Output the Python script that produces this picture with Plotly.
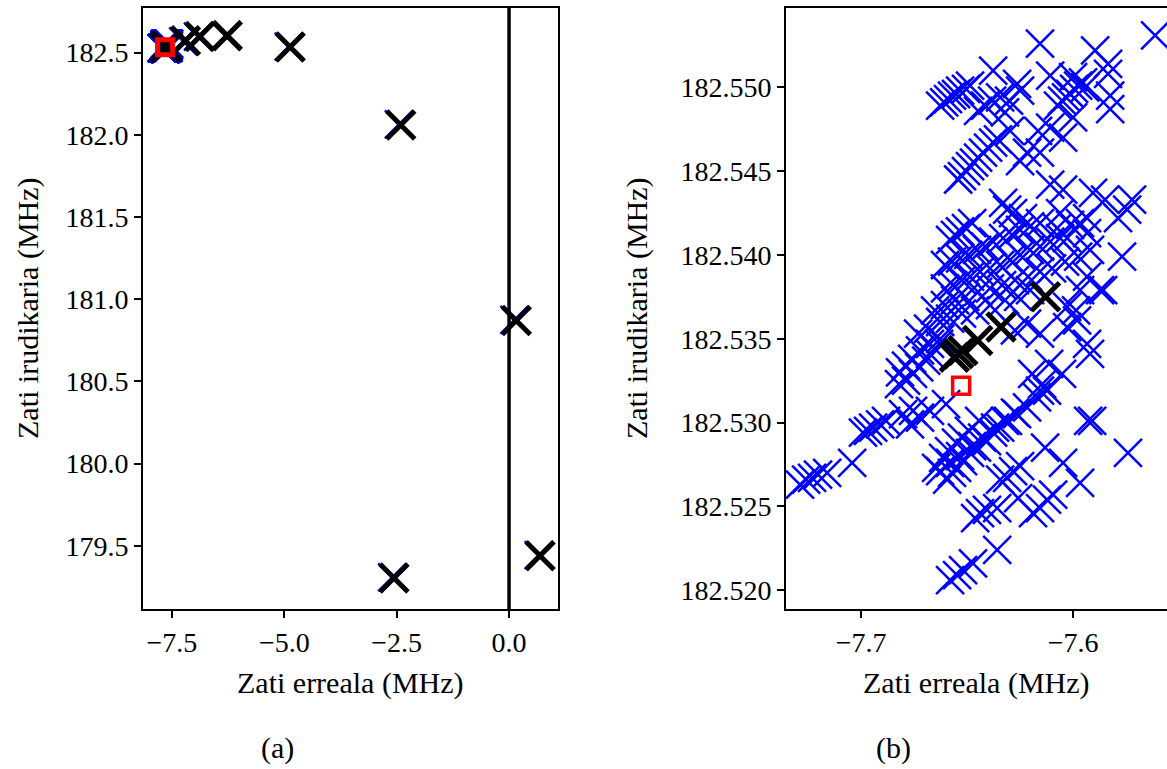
import plotly.graph_objects as go

# Estimated poles (real part, imaginary part), MHz
blue_re = [
    -7.6156, -7.5896, -7.5835, -7.5613, -7.5835, -7.5825, -7.5825, -7.5943, -7.6000, -7.6108, -7.6264, -7.6377, -7.6486,
    -7.6627, -7.6608, -7.6590, -7.6571, -7.6552, -7.6533, -7.6505, -7.6448, -7.6415, -7.6382, -7.6344, -7.6302, -7.6250, -7.6321,
    -7.6071, -7.6052, -7.6033, -7.6014, -7.5995, -7.5976, -7.5953, -7.6000, -7.6108, -7.6047, -7.6165,
    -7.6542, -7.6524, -7.6505, -7.6486, -7.6467, -7.6448, -7.6425, -7.6401, -7.6377, -7.6354, -7.6250, -7.6217, -7.6156, -7.6297,
    -7.6108, -7.6047, -7.5906, -7.5849, -7.5722, -7.5745, -7.5788,
    -7.6580, -7.6557, -7.6533, -7.6505, -7.6476, -7.6330, -7.6311, -7.6236, -7.6283, -7.6075, -7.6014, -7.5967, -7.5934, -7.6061, -7.6028, -7.5934,
    -7.6604, -7.6571, -7.6533, -7.6495, -7.6453, -7.6415, -7.6377, -7.6330, -7.6288, -7.6250, -7.6203, -7.6156,
    -7.6604, -7.6566, -7.6524, -7.6486, -7.6439, -7.6392, -7.6344, -7.6297, -7.6250, -7.6203, -7.6156, -7.6108, -7.6061,
    -7.6651, -7.6604, -7.6557, -7.6509, -7.6448, -7.6392, -7.6335, -7.6274, -7.6212, -7.6156, -7.6099, -7.6038, -7.5976, -7.5920,
    -7.6731, -7.6684, -7.6627, -7.6580, -7.6524, -7.6462, -7.6392, -7.6321, -7.6259, -7.6203,
    -7.6816, -7.6788, -7.6759, -7.6722, -7.6675, -7.6627,
    -7.5934, -7.5873, -7.6028, -7.5981, -7.5934, -7.5920, -7.6156, -7.6217, -7.6028, -7.5967, -7.5769, -7.6113, -7.6193, -7.6052, -7.6146, -7.6274, -7.5986, -7.5858,
    -7.7288, -7.7259, -7.7231, -7.7203, -7.7160, -7.7042, -7.6991, -7.6967, -7.6943, -7.6910, -7.6882, -7.6802, -7.6755,
    -7.6821, -7.6788, -7.6755, -7.6726, -7.6693, -7.6675, -7.6632, -7.6599,
    -7.6769, -7.6722, -7.6675, -7.6594, -7.6571, -7.6547, -7.6519, -7.6486, -7.6453, -7.6406, -7.6377, -7.6344, -7.6307, -7.6264,
    -7.6217, -7.6170, -7.6156, -7.6123, -7.5929, -7.6132, -7.6047, -7.5967, -7.6344, -7.6311, -7.6283, -7.6250, -7.6259, -7.6189,
    -7.6156, -7.6123, -7.6094, -7.6462, -7.6439, -7.6406, -7.6358, -7.6358, -7.6580, -7.6547, -7.6519, -7.6472,
    -7.6646, -7.6613, -7.6585, -7.6552, -7.6524, -7.6491, -7.6443, -7.5910, -7.5741,
    -7.6627, -7.6580, -7.6533, -7.6476, -7.6429, -7.6368, -7.6321, -7.6274,
    -7.25, -6.92, -6.31, -4.90, -2.45, 0.12, 0.66, -2.60,
]
blue_im = [
    182.5526, 182.5522, 182.5514, 182.5531, 182.5508, 182.5495, 182.5487, 182.5500, 182.5506, 182.5507, 182.5502, 182.5510, 182.5501,
    182.5489, 182.5491, 182.5493, 182.5495, 182.5496, 182.5498, 182.5499, 182.5486, 182.5489, 182.5492, 182.5494, 182.5492, 182.5498, 182.5485,
    182.5489, 182.5492, 182.5494, 182.5496, 182.5499, 182.5501, 182.5503, 182.5482, 182.5476, 182.5470, 182.5474,
    182.5445, 182.5447, 182.5450, 182.5453, 182.5455, 182.5458, 182.5461, 182.5464, 182.5467, 182.5469, 182.5456, 182.5461, 182.5461, 182.5474,
    182.5442, 182.5439, 182.5437, 182.5433, 182.5433, 182.5427, 182.5422,
    182.5409, 182.5412, 182.5414, 182.5416, 182.5419, 182.5431, 182.5427, 182.5422, 182.5425, 182.5416, 182.5418, 182.5419, 182.5422, 182.5425, 182.5410, 182.5413,
    182.5394, 182.5396, 182.5398, 182.5400, 182.5403, 182.5405, 182.5408, 182.5410, 182.5412, 182.5415, 182.5417, 182.5419,
    182.5380, 182.5382, 182.5385, 182.5387, 182.5390, 182.5392, 182.5394, 182.5397, 182.5400, 182.5403, 182.5405, 182.5408, 182.5410,
    182.5367, 182.5370, 182.5373, 182.5375, 182.5378, 182.5380, 182.5382, 182.5385, 182.5387, 182.5390, 182.5392, 182.5396, 182.5399, 182.5403,
    182.5353, 182.5356, 182.5360, 182.5362, 182.5365, 182.5367, 182.5370, 182.5373, 182.5375, 182.5379,
    182.5330, 182.5334, 182.5338, 182.5343, 182.5347, 182.5350,
    182.5387, 182.5379, 182.5369, 182.5361, 182.5347, 182.5341, 182.5353, 182.5359, 182.5357, 182.5379, 182.5399, 182.5335, 182.5329, 182.5329, 182.5323, 182.5355, 182.5367, 182.5379,
    182.5263, 182.5266, 182.5267, 182.5269, 182.5270, 182.5276, 182.5294, 182.5295, 182.5297, 182.5299, 182.5301, 182.5305, 182.5307,
    182.5323, 182.5325, 182.5329, 182.5333, 182.5337, 182.5341, 182.5347, 182.5311,
    182.5299, 182.5303, 182.5307, 182.5266, 182.5270, 182.5273, 182.5277, 182.5282, 182.5285, 182.5289, 182.5294, 182.5297, 182.5301, 182.5305,
    182.5309, 182.5315, 182.5319, 182.5319, 182.5301, 182.5285, 182.5276, 182.5264, 182.5266, 182.5267, 182.5271, 182.5274, 182.5255, 182.5246,
    182.5249, 182.5254, 182.5257, 182.5243, 182.5246, 182.5248, 182.5249, 182.5224, 182.5206, 182.5209, 182.5212, 182.5216,
    182.5273, 182.5279, 182.5283, 182.5288, 182.5291, 182.5295, 182.5301, 182.5301, 182.5282,
    182.5271, 182.5276, 182.5280, 182.5286, 182.5291, 182.5297, 182.5301, 182.5306,
    182.568, 182.597, 182.602, 182.536, 182.063, 180.874, 179.443, 179.308,
]

black_re = [-7.656, -7.654, -7.652, -7.645, -7.634, -7.613, -7.20, -6.88, -6.27, -4.87, -2.41, 0.16, 0.69, -2.56]
black_im = [182.5339, 182.5341, 182.5343, 182.5349, 182.5357, 182.5375, 182.572, 182.598, 182.603, 182.534, 182.06, 180.87, 179.44, 179.305]

ref_re = [-7.6528]
ref_im = [182.5322]

left_xticks = [-7.5, -5.0, -2.5, 0.0]
left_yticks = [179.5, 180.0, 180.5, 181.0, 181.5, 182.0, 182.5]
right_xticks = [-7.7, -7.6]
right_yticks = [182.520, 182.525, 182.530, 182.535, 182.540, 182.545, 182.550]

FONT = "Liberation Serif, DejaVu Serif, serif"
W, H = 1167, 769


def fmt(v, nd):
    s = f"{v:.{nd}f}"
    return s.replace("-", "\u2212")


fig = go.Figure()

# panel (a): full view
fig.add_trace(go.Scatter(x=blue_re, y=blue_im, mode="markers", xaxis="x", yaxis="y",
                         marker=dict(symbol="x-thin", size=28, line=dict(width=2.5, color="#0000ff")),
                         showlegend=False))
fig.add_trace(go.Scatter(x=black_re, y=black_im, mode="markers", xaxis="x", yaxis="y",
                         marker=dict(symbol="x-thin", size=28, line=dict(width=5, color="black")),
                         showlegend=False))
fig.add_trace(go.Scatter(x=ref_re, y=ref_im, mode="markers", xaxis="x", yaxis="y",
                         marker=dict(symbol="square-open", size=15, color="red", line=dict(width=5, color="red")),
                         showlegend=False))

# panel (b): close-up of the cluster
fig.add_trace(go.Scatter(x=blue_re, y=blue_im, mode="markers", xaxis="x2", yaxis="y2",
                         marker=dict(symbol="x-thin", size=28, line=dict(width=2.5, color="#0000ff")),
                         showlegend=False))
fig.add_trace(go.Scatter(x=black_re, y=black_im, mode="markers", xaxis="x2", yaxis="y2",
                         marker=dict(symbol="x-thin", size=28, line=dict(width=5, color="black")),
                         showlegend=False))
fig.add_trace(go.Scatter(x=ref_re, y=ref_im, mode="markers", xaxis="x2", yaxis="y2",
                         marker=dict(symbol="square-open", size=17, color="red", line=dict(width=3.5, color="red")),
                         showlegend=False))

# imaginary axis reference line
fig.add_shape(type="line", xref="x", yref="y domain", x0=0, x1=0, y0=0, y1=1,
              line=dict(color="black", width=3.5))

y_bot = 1 - 609 / H
y_top = 1 - 8 / H

axis_common = dict(showline=True, linecolor="black", linewidth=1.8, ticks="outside",
                   ticklen=7, tickwidth=1.6, tickcolor="black", showgrid=False, zeroline=False,
                   tickfont=dict(family=FONT, size=28, color="black"))

fig.update_layout(
    width=W, height=H, margin=dict(l=0, r=0, t=0, b=0),
    paper_bgcolor="white", plot_bgcolor="white",
    xaxis=dict(domain=[143 / W, 558 / W], range=[-8.144, 1.089], mirror=True,
               tickvals=left_xticks, ticktext=[fmt(v, 1) for v in left_xticks],
               anchor="y", **axis_common),
    yaxis=dict(domain=[y_bot, y_top], range=[179.116, 182.771], mirror=True,
               tickvals=left_yticks, ticktext=[fmt(v, 1) for v in left_yticks],
               anchor="x", **axis_common),
    xaxis2=dict(domain=[786 / W, 1.0], range=[-7.7354, -7.5557], mirror=True,
                tickvals=right_xticks, ticktext=[fmt(v, 1) for v in right_xticks],
                anchor="y2", **axis_common),
    yaxis2=dict(domain=[y_bot, y_top], range=[182.51888, 182.55473], mirror=False,
                tickvals=right_yticks, ticktext=[fmt(v, 3) for v in right_yticks],
                anchor="x2", **axis_common),
)

title_font = dict(family=FONT, size=30, color="black")
annots = [
    dict(text="Zati erreala (MHz)", x=350.5 / W, y=1 - 683 / H),
    dict(text="Zati erreala (MHz)", x=976.5 / W, y=1 - 683 / H),
    dict(text="Zati irudikaria (MHz)", x=28 / W, y=1 - 308 / H, textangle=-90),
    dict(text="Zati irudikaria (MHz)", x=637 / W, y=1 - 308 / H, textangle=-90),
    dict(text="(a)", x=277 / W, y=1 - 748 / H),
    dict(text="(b)", x=893 / W, y=1 - 748 / H),
]
for a in annots:
    fig.add_annotation(xref="paper", yref="paper", xanchor="center", yanchor="middle",
                       showarrow=False, font=title_font, **a)

fig.write_html("out.html")
